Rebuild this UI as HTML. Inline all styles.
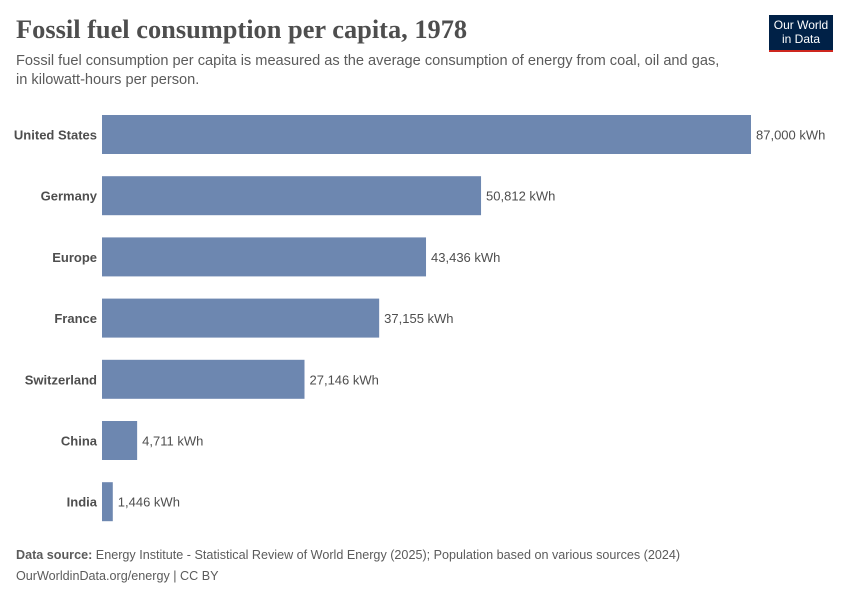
<!DOCTYPE html>
<html><head><meta charset="utf-8"><style>
body{margin:0;width:850px;height:600px;background:#fff;font-family:"Liberation Sans",sans-serif;overflow:hidden;position:relative}
.t{position:absolute;white-space:nowrap}
</style></head><body>
<div class="t" style="left:16px;top:14px;font-family:'Liberation Serif',serif;font-size:26.4px;font-weight:bold;color:#4e4e4e">Fossil fuel consumption per capita, 1978</div>
<div class="t" style="left:16px;top:52px;font-size:14.6px;color:#5b5b5b;line-height:19px">Fossil fuel consumption per capita is measured as the average consumption of energy from coal, oil and gas,<br>in kilowatt-hours per person.</div>
<div style="position:absolute;left:769px;top:15px;width:64px;height:37px;background:#002147;border-bottom:2px solid #ce261e;box-sizing:border-box;color:#fff;font-size:12px;line-height:14px;text-align:center;padding-top:3px">Our World<br>in Data</div>
<svg id="chart" width="850" height="600" style="position:absolute;left:0;top:0"></svg>
<div class="t" style="left:16px;top:548px;font-size:12.6px;color:#5b5b5b"><b>Data source:</b> Energy Institute - Statistical Review of World Energy (2025); Population based on various sources (2024)</div>
<div class="t" style="left:16px;top:569px;font-size:12.6px;color:#5b5b5b">OurWorldinData.org/energy | CC BY</div>
<script>
const categories=["United States","Germany","Europe","France","Switzerland","China","India"];
const values=[87000,50812,43436,37155,27146,4711,1446];
const labels=["87,000 kWh","50,812 kWh","43,436 kWh","37,155 kWh","27,146 kWh","4,711 kWh","1,446 kWh"];
const svg=document.getElementById('chart');
const NS='http://www.w3.org/2000/svg';
const x0=102,x1=751,maxV=87000;
const xs=v=>x0+(v/maxV)*(x1-x0);
const top0=115,step=61.2,bh=39;
categories.forEach((c,i)=>{
  const y=top0+i*step;
  const r=document.createElementNS(NS,'rect');
  r.setAttribute('x',x0);r.setAttribute('y',y);
  r.setAttribute('width',xs(values[i])-x0);r.setAttribute('height',bh);
  r.setAttribute('fill','#6d87b0');
  
  
  svg.appendChild(r);
  const l=document.createElementNS(NS,'text');
  l.setAttribute('x',97);l.setAttribute('y',y+bh/2+5);
  l.setAttribute('text-anchor','end');l.setAttribute('font-size','13');
  l.setAttribute('font-weight','bold');l.setAttribute('fill','#4e4e4e');
  l.textContent=c;
  
  
  svg.appendChild(l);
  const v=document.createElementNS(NS,'text');
  v.setAttribute('x',xs(values[i])+5);v.setAttribute('y',y+bh/2+5);
  v.setAttribute('font-size','13');v.setAttribute('fill','#4e4e4e');
  v.textContent=labels[i];
  
  
  svg.appendChild(v);
});
</script>
</body></html>
